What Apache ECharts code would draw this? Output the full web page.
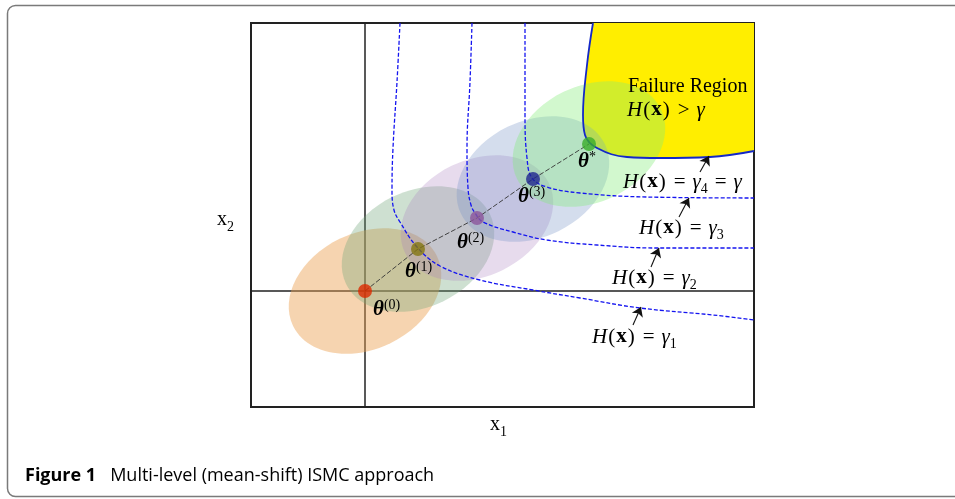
<!DOCTYPE html>
<html><head><meta charset="utf-8">
<script src="https://cdn.jsdelivr.net/npm/echarts@6/dist/echarts.min.js"></script>
<style>html,body{margin:0;padding:0;background:#fff}#c{width:955px;height:499px}</style>
</head><body><div id="c"></div>
<script>
// ---- data (units measured from the axis origin; x to the right, y upward) ----
const iterX = [0, 53, 112, 168, 224];
const iterY = [0, 42, 73, 112, 147];
const iterSup = ['(0)', '(1)', '(2)', '(3)', '*'];

const gamma1X = [35, 32, 28, 27, 29, 35, 52, 75, 115, 168, 215, 275, 348, 389];
const gamma1Y = [268, 209, 143, 101, 81, 69, 44, 25, 11, 1, -7, -17, -24, -29];
const gamma2X = [107, 105, 102, 103, 106, 110, 118, 148, 182, 232, 292, 389];
const gamma2Y = [268, 209, 143, 103, 86, 78, 69, 59, 51, 46, 43, 43];
const gamma3X = [160, 160, 162, 167, 182, 215, 282, 389];
const gamma3Y = [268, 176, 133, 113, 104, 98, 94, 93];
const gamma4X = [228, 222, 218, 220, 232, 262, 295, 345, 389];
const gamma4Y = [268, 226, 176, 156, 143, 134, 133, 134, 140];

const arrowFromX = [268, 286, 314, 335];
const arrowFromY = [-34, 24, 74, 119];
const arrowToX = [276, 294, 324, 344];
const arrowToY = [-16, 43, 93, 135];

// ---- styles ----
const dotColors = ['#dc2a00', '#857712', '#8b559b', '#1f2590', '#3aac2a'];
const ellipseColors = ['rgba(235,160,80,0.45)', 'rgba(110,165,120,0.34)', 'rgba(170,125,190,0.28)', 'rgba(120,150,200,0.32)', 'rgba(130,235,120,0.36)'];

const pairs = (xs, ys) => xs.map((x, i) => [x, ys[i]]);
const SERIF = 'Liberation Serif';
const FS = 21;
const rich = {
  i: {fontFamily: SERIF, fontStyle: 'italic', fontSize: FS, lineHeight: 28, color: '#222'},
  p: {fontFamily: SERIF, fontSize: FS, lineHeight: 28, color: '#222', padding: [0, 1, 0, 1]},
  n: {fontFamily: SERIF, fontSize: 20, lineHeight: 28, color: '#222'},
  e: {fontFamily: SERIF, fontSize: FS, lineHeight: 28, color: '#222', padding: [0, 7, 0, 7]},
  b: {fontFamily: SERIF, fontWeight: 'bold', fontSize: FS, lineHeight: 28, color: '#222'},
  s: {fontFamily: SERIF, fontSize: 14, lineHeight: 16, color: '#222', verticalAlign: 'bottom'},
  th: {fontFamily: SERIF, fontStyle: 'italic', fontWeight: 'bold', fontSize: 21, lineHeight: 24, color: '#222'},
  sup: {fontFamily: SERIF, fontSize: 14, lineHeight: 14, color: '#222', verticalAlign: 'top'}
};
const H = '{i|H}{p|(}{b|x}{p|)}';
const annTexts = [
  {t: '{n|Failure Region}', x: 628, y: 87},
  {t: H + '{e|>}{i|γ}', x: 627, y: 110},
  {t: H + '{e|=}{i|γ}{s|4}{e|=}{i|γ}', x: 623, y: 182},
  {t: H + '{e|=}{i|γ}{s|3}', x: 639, y: 228},
  {t: H + '{e|=}{i|γ}{s|2}', x: 612, y: 278},
  {t: H + '{e|=}{i|γ}{s|1}', x: 592, y: 337},
  {t: '{n|x}{s|1}', x: 490, y: 425},
  {t: '{n|x}{s|2}', x: 217, y: 220}
];
const thetaPos = [[373, 310], [405, 272], [457, 243], [518, 197], [578, 162]];

const chart = echarts.init(document.getElementById('c'), null, {renderer: 'canvas'});
const graphic = [
  {type: 'rect', shape: {x: 7.5, y: 5.5, width: 1000, height: 491, r: 8}, style: {fill: 'none', stroke: '#7a7a7a', lineWidth: 1.5}, z: -1},
  {type: 'text', x: 25, y: 476, style: {text: '{b|Figure 1}{r|Multi-level (mean-shift) ISMC approach}', verticalAlign: 'middle',
    rich: {b: {fontFamily: 'Open Sans', fontWeight: 'bold', fontSize: 18, color: '#222', padding: [0, 14, 0, 0]},
           r: {fontFamily: 'Open Sans', fontSize: 18, color: '#222'}}}}
];
annTexts.forEach(a => graphic.push({type: 'text', x: a.x, y: a.y, z: 10, style: {text: a.t, rich: rich, verticalAlign: 'middle', align: 'left'}}));
iterSup.forEach((s, k) => graphic.push({type: 'text', x: thetaPos[k][0], y: thetaPos[k][1], z: 10,
  style: {text: '{th|θ}{sup|' + s + '}', rich: rich, verticalAlign: 'middle', align: 'left'}}));

const dashed = {color: '#1414f0', width: 1.3, type: [4, 2]};
const option = {
  animation: false,
  grid: {left: 251, top: 23, width: 503, height: 384, show: true, borderColor: '#222', borderWidth: 2, backgroundColor: 'transparent'},
  xAxis: {type: 'value', min: -114, max: 389, axisLine: {show: true, onZero: true, lineStyle: {color: '#222', width: 1.5}},
    axisTick: {show: false}, axisLabel: {show: false}, splitLine: {show: false}},
  yAxis: {type: 'value', min: -116, max: 268, axisLine: {show: true, onZero: true, lineStyle: {color: '#222', width: 1.5}},
    axisTick: {show: false}, axisLabel: {show: false}, splitLine: {show: false}},
  graphic: graphic,
  series: [
    {name: 'failure', type: 'line', z: 1, smooth: 0.4, symbol: 'none', silent: true, data: pairs(gamma4X, gamma4Y),
      lineStyle: {width: 0, opacity: 0}, areaStyle: {color: '#ffee00', opacity: 1, origin: 'end'}},
    {name: 'ellipses', type: 'custom', z: 2, silent: true, data: iterX.map((x, i) => [x, iterY[i], i]),
      renderItem: (params, api) => {
        const p = api.coord([api.value(0), api.value(1)]);
        return {type: 'ellipse', x: p[0], y: p[1], rotation: 26 * Math.PI / 180,
          shape: {cx: 0, cy: 0, rx: 80, ry: 58}, style: {fill: ellipseColors[api.value(2)]}};
      }},
    {name: 'g1', type: 'line', z: 3, smooth: 0.4, symbol: 'none', silent: true, data: pairs(gamma1X, gamma1Y), lineStyle: dashed},
    {name: 'g2', type: 'line', z: 3, smooth: 0.4, symbol: 'none', silent: true, data: pairs(gamma2X, gamma2Y), lineStyle: dashed},
    {name: 'g3', type: 'line', z: 3, smooth: 0.4, symbol: 'none', silent: true, data: pairs(gamma3X, gamma3Y), lineStyle: dashed},
    {name: 'g4', type: 'line', z: 3, smooth: 0.4, symbol: 'none', silent: true, data: pairs(gamma4X, gamma4Y), lineStyle: {color: '#1428c8', width: 1.8}},
    {name: 'path', type: 'line', z: 4, symbol: 'none', silent: true, data: pairs(iterX, iterY), lineStyle: {color: '#333', width: 0.9, type: [5, 2]}},
    {name: 'iterates', type: 'scatter', z: 5, symbolSize: 14, silent: true,
      data: iterX.map((x, i) => ({value: [x, iterY[i]], itemStyle: {color: dotColors[i]}}))},
    {name: 'arrows', type: 'line', z: 6, data: [], silent: true,
      markLine: {silent: true, symbol: ['none', 'arrow'], symbolSize: 9, label: {show: false},
        lineStyle: {color: '#111', width: 1.1, type: 'solid'},
        data: arrowFromX.map((x, i) => [{coord: [x, arrowFromY[i]]}, {coord: [arrowToX[i], arrowToY[i]]}])}}
  ]
};
chart.setOption(option);
</script></body></html>
